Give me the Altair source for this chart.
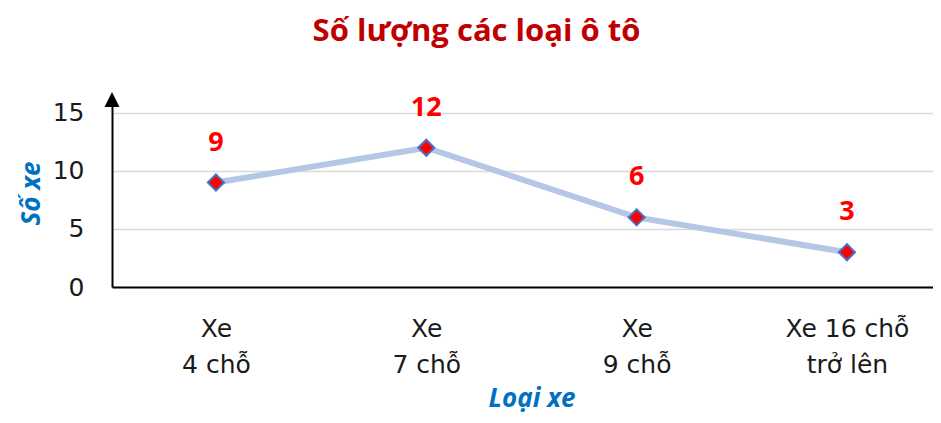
import altair as alt
import pandas as pd

categories = ["Xe\n4 chỗ", "Xe\n7 chỗ", "Xe\n9 chỗ", "Xe 16 chỗ\ntrở lên"]
values = [9, 12, 6, 3]
y_ticks = [0, 5, 10, 15]

df = pd.DataFrame({"cat": categories, "val": values})

x_scale = alt.Scale(type="point", padding=0.4517, align=0.547)

x_enc = alt.X(
    "cat:N",
    sort=categories,
    scale=x_scale,
    axis=alt.Axis(
        title="Loại xe",
        titleFont="Open Sans",
        titleFontSize=26,
        titleFontWeight="bold",
        titleFontStyle="italic",
        titleColor="#0070C0",
        titleX=419.5,
        titleAlign="center",
        titlePadding=8,
        labelExpr="split(datum.label, '\\n')",
        labelFont="DejaVu Sans",
        labelFontSize=25,
        labelColor="#1a1a1a",
        labelLineHeight=36,
        labelPadding=29,
        labelAngle=0,
        ticks=False,
        grid=False,
        domainColor="#000000",
        domainWidth=2,
    ),
)

y_scale = alt.Scale(domain=[0, 16.2], nice=False)
y_axis = alt.Axis(
    title="Số xe",
    titleFont="Open Sans",
    titleFontSize=26,
    titleFontWeight="bold",
    titleFontStyle="italic",
    titleColor="#0070C0",
    titlePadding=8,
    values=y_ticks,
    labelFont="DejaVu Sans",
    labelFontSize=25,
    labelColor="#1a1a1a",
    labelPadding=28,
    ticks=False,
    grid=True,
    gridColor="#D9D9D9",
    gridWidth=1.5,
    domainColor="#000000",
    domainWidth=2,
)

base = alt.Chart(df)

line = base.mark_line(color="#B4C7E7", strokeWidth=6).encode(
    x=x_enc, y=alt.Y("val:Q", scale=y_scale, axis=y_axis)
)

points = base.mark_point(
    shape="diamond", filled=True, fill="#FF0000", stroke="#4472C4",
    strokeWidth=2, size=260, opacity=1
).encode(x=alt.X("cat:N", sort=categories), y="val:Q")

labels = base.mark_text(
    font="Open Sans", fontSize=27, fontWeight="bold", color="#FF0000",
    dy=-40, baseline="middle"
).encode(x=alt.X("cat:N", sort=categories), y="val:Q", text="val:Q")

arrow = alt.Chart(pd.DataFrame({"a": [15.5]})).mark_point(
    shape="M0,-2L-1,0L1,0Z", filled=True, color="#000000", size=225, opacity=1
).encode(x=alt.value(0), y=alt.Y("a:Q"))

chart = alt.layer(line, points, labels, arrow).properties(
    width=821,
    height=188,
    title=alt.TitleParams(
        "Số lượng các loại ô tô",
        font="Open Sans",
        fontSize=31,
        fontWeight="bold",
        color="#C00000",
        anchor="middle",
        dx=-46,
        offset=44,
    ),
    autosize=alt.AutoSizeParams(type="none"),
    padding={"left": 104, "top": 91, "right": 0, "bottom": 128},
).configure_view(stroke=None)

chart.save("out.html", embed_options={"renderer": "svg", "actions": False})
